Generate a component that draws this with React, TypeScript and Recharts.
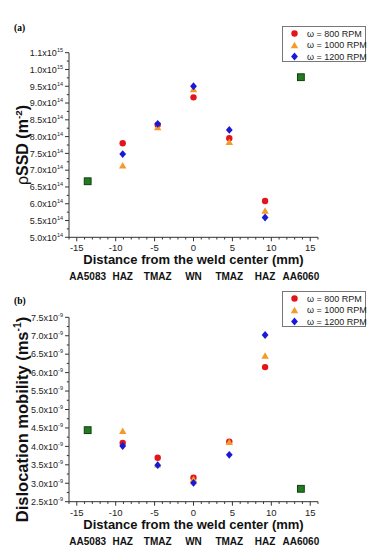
import React from "react";
import { ScatterChart, Scatter, XAxis, YAxis } from "recharts";

// x positions (mm from weld centre)
const rpmX = [-9.1, -4.6, 0, 4.6, 9.2];
const baseX = [-13.6, 13.8];
const zoneNames = ["AA5083", "HAZ", "TMAZ", "WN", "TMAZ", "HAZ", "AA6060"];
const zoneX = [-13.6, -9.1, -4.6, 0, 4.6, 9.2, 13.8];

// (a) rho SSD, units of 1e14 m^-2
const rpm800A = [7.8, 8.35, 9.17, 7.95, 6.08];
const rpm1000A = [7.13, 8.27, 9.4, 7.83, 5.78];
const rpm1200A = [7.48, 8.38, 9.5, 8.2, 5.59];
const baseA = [6.67, 9.77];

// (b) dislocation mobility, units of 1e-9 m/s
const rpm800B = [4.09, 3.69, 3.15, 4.13, 6.15];
const rpm1000B = [4.41, 3.5, 3.1, 4.11, 6.45];
const rpm1200B = [4.01, 3.49, 3.01, 3.77, 7.02];
const baseB = [4.44, 2.85];

const xMajor = [-15, -10, -5, 0, 5, 10, 15];
const xAll = [-16, -15, -14, -13, -12, -11, -10, -9, -8, -7, -6, -5, -4, -3, -2, -1, 0, 1, 2, 3, 4, 5, 6, 7, 8, 9, 10, 11, 12, 13, 14, 15, 16];

const yMajorA = [5, 5.5, 6, 6.5, 7, 7.5, 8, 8.5, 9, 9.5, 10, 10.5];
const yMantA = ["5.0", "5.5", "6.0", "6.5", "7.0", "7.5", "8.0", "8.5", "9.0", "9.5", "1.0", "1.1"];
const yExpA = ["14", "14", "14", "14", "14", "14", "14", "14", "14", "14", "15", "15"];

const yMajorB = [2.5, 3, 3.5, 4, 4.5, 5, 5.5, 6, 6.5, 7, 7.5];
const yMantB = ["2.5", "3.0", "3.5", "4.0", "4.5", "5.0", "5.5", "6.0", "6.5", "7.0", "7.5"];
const yExpB = ["-9", "-9", "-9", "-9", "-9", "-9", "-9", "-9", "-9", "-9", "-9"];

const series = [
  { rpm: "800", kind: "circle", color: "#e3141c" },
  { rpm: "1000", kind: "triangle", color: "#f39a2a" },
  { rpm: "1200", kind: "diamond", color: "#1a1ad6" },
];

const FONT = "'Liberation Sans', Arial, sans-serif";
const AX = "#333";

function marker(kind: string, cx: number, cy: number, color: string) {
  if (kind === "circle") return <circle cx={cx} cy={cy} r={3.2} fill={color} />;
  if (kind === "triangle")
    return <polygon points={`${cx},${cy - 3.8} ${cx + 3.7},${cy + 2.7} ${cx - 3.7},${cy + 2.7}`} fill={color} />;
  if (kind === "diamond")
    return <polygon points={`${cx},${cy - 3.9} ${cx + 3.4},${cy} ${cx},${cy + 3.9} ${cx - 3.4},${cy}`} fill={color} />;
  return <rect x={cx - 3.4} y={cy - 3.4} width={6.8} height={6.8} fill="#237a23" stroke="#0d400d" strokeWidth={1} />;
}

function withMinors(majors: number[]) {
  const out: number[] = [];
  majors.forEach((m, i) => {
    out.push(m);
    if (i < majors.length - 1) out.push((m + majors[i + 1]) / 2);
  });
  return out;
}

function XTick(props: any) {
  const { x, y, payload } = props;
  const major = xMajor.includes(payload.value);
  return (
    <g>
      <line x1={x} x2={x} y1={y} y2={y + (major ? 4 : 2.2)} stroke={AX} />
      {major && (
        <text x={x} y={y + 14} textAnchor="middle" fontSize={9.5} fontFamily={FONT} fill="#222">
          {payload.value}
        </text>
      )}
    </g>
  );
}

function makeYTick(majors: number[], mant: string[], exp: string[]) {
  return function YTick(props: any) {
    const { x, y, payload } = props;
    const idx = majors.findIndex((m) => Math.abs(m - payload.value) < 1e-6);
    const major = idx >= 0;
    return (
      <g>
        <line x1={x - (major ? 4 : 2.2)} x2={x} y1={y} y2={y} stroke={AX} />
        {major && (
          <text x={x - 6} y={y + 3.3} textAnchor="end" fontSize={9} fontFamily={FONT} fill="#222">
            <tspan>{mant[idx]}x10</tspan>
            <tspan dy={-4} fontSize={5.5}>{exp[idx]}</tspan>
          </text>
        )}
      </g>
    );
  };
}

function xLabel(props: any) {
  const vb = props.viewBox;
  return (
    <text x={vb.x + vb.width / 2} y={vb.y + 27} textAnchor="middle" fontSize={13} fontWeight="bold" fontFamily={FONT} fill="#111">
      Distance from the weld center (mm)
    </text>
  );
}

function makeYLabel(pre: string, main: string, unit: string, sup: string, size: number, shift: number) {
  return function YLabel(props: any) {
    const vb = props.viewBox;
    const cx = 28;
    const cy = vb.y + vb.height / 2 + shift;
    return (
      <text x={cx} y={cy} transform={`rotate(-90, ${cx}, ${cy})`} textAnchor="middle" fontSize={size} fontWeight="bold" fontFamily={FONT} fill="#111">
        {pre && <tspan fontWeight="normal">{pre}</tspan>}
        <tspan>{main} ({unit}</tspan>
        <tspan dy={-size * 0.4} fontSize={size * 0.62}>{sup}</tspan>
        <tspan dy={size * 0.4}>)</tspan>
      </text>
    );
  };
}

function ZoneLabel(props: any) {
  return (
    <text x={props.cx} y={props.cy + 43} textAnchor="middle" fontSize={10} fontWeight="bold" fontFamily={FONT} fill="#111">
      {props.payload.name}
    </text>
  );
}

function LegendBox({ top }: { top: number }) {
  return (
    <div
      style={{
        position: "absolute",
        left: 282,
        top,
        width: 84,
        height: 36,
        border: "1px solid #777",
        boxSizing: "border-box",
        background: "#fff",
        fontFamily: FONT,
        fontSize: 9,
        color: "#222",
      }}
    >
      {series.map((s, i) => (
        <div key={s.rpm} style={{ position: "absolute", left: 0, top: 1 + i * 11.5, height: 11, display: "flex", alignItems: "center", whiteSpace: "nowrap" }}>
          <svg width={24} height={11} style={{ display: "block" }}>
            {marker(s.kind, 11.5, 5.5, s.color)}
          </svg>
          <span>ω = {s.rpm} RPM</span>
        </div>
      ))}
    </div>
  );
}

function Panel(props: {
  height: number;
  top: number;
  bottom: number;
  domain: [number, number];
  majors: number[];
  mant: string[];
  exp: string[];
  r800: number[];
  r1000: number[];
  r1200: number[];
  base: number[];
  yLabel: any;
}) {
  const { majors } = props;
  const ymin = props.domain[0];
  const vals = [props.r800, props.r1000, props.r1200];
  const baseData = baseX.map((x, i) => ({ x, y: props.base[i] }));
  const zones = zoneX.map((x, i) => ({ x, y: ymin, name: zoneNames[i] }));
  return (
    <ScatterChart width={387} height={props.height} margin={{ top: props.top, right: 69, bottom: props.bottom, left: 0 }}>
      <XAxis
        type="number"
        dataKey="x"
        domain={[-16, 16]}
        ticks={xAll}
        interval={0}
        tick={<XTick />}
        tickLine={false}
        tickSize={0}
        tickMargin={0}
        height={30}
        stroke={AX}
        label={xLabel}
      />
      <YAxis
        type="number"
        dataKey="y"
        domain={props.domain}
        ticks={withMinors(majors)}
        interval={0}
        tick={React.createElement(makeYTick(majors, props.mant, props.exp))}
        tickLine={false}
        tickSize={0}
        tickMargin={0}
        width={69}
        stroke={AX}
        label={props.yLabel}
      />
      <Scatter data={zones} isAnimationActive={false} shape={(p: any) => <ZoneLabel {...p} />} />
      <Scatter data={baseData} isAnimationActive={false} shape={(p: any) => marker("square", p.cx, p.cy, "#237a23")} />
      {series.map((s, k) => (
        <Scatter
          key={s.rpm}
          data={rpmX.map((x, i) => ({ x, y: vals[k][i] }))}
          isAnimationActive={false}
          shape={(p: any) => marker(s.kind, p.cx, p.cy, s.color)}
        />
      ))}
    </ScatterChart>
  );
}

export default function App() {
  return (
    <div style={{ position: "absolute", left: 0, top: 0, width: 387, height: 550, background: "#fff", overflow: "hidden" }}>
      <div style={{ position: "absolute", left: 0, top: 0 }}>
        <Panel
          height={285}
          top={52.7}
          bottom={17.7}
          domain={[5, 10.5]}
          majors={yMajorA}
          mant={yMantA}
          exp={yExpA}
          r800={rpm800A}
          r1000={rpm1000A}
          r1200={rpm1200A}
          base={baseA}
          yLabel={makeYLabel("ρ", "SSD", "m", "-2", 16, 0)}
        />
      </div>
      <div style={{ position: "absolute", left: 0, top: 285 }}>
        <Panel
          height={265}
          top={32.3}
          bottom={18.3}
          domain={[2.5, 7.5]}
          majors={yMajorB}
          mant={yMantB}
          exp={yExpB}
          r800={rpm800B}
          r1000={rpm1000B}
          r1200={rpm1200B}
          base={baseB}
          yLabel={makeYLabel("", "Dislocation mobility", "ms", "-1", 16.5, 10)}
        />
      </div>
      <LegendBox top={26} />
      <LegendBox top={291} />
      <div style={{ position: "absolute", left: 14, top: 23, fontFamily: "'Liberation Serif', serif", fontWeight: "bold", fontSize: 9.5 }}>(a)</div>
      <div style={{ position: "absolute", left: 14, top: 296, fontFamily: "'Liberation Serif', serif", fontWeight: "bold", fontSize: 9.5 }}>(b)</div>
    </div>
  );
}
